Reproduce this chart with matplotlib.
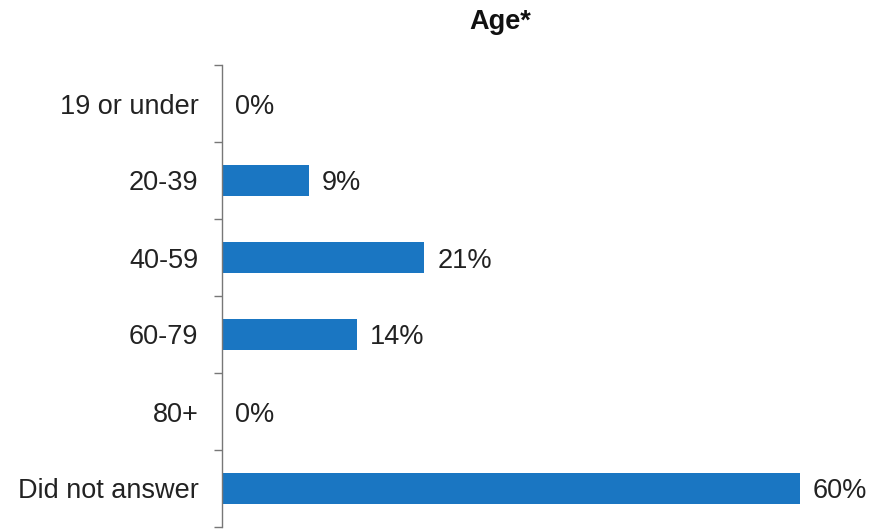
import matplotlib.pyplot as plt
import numpy as np

plt.rcParams['font.family'] = ['Liberation Sans', 'DejaVu Sans']

categories = ['19 or under', '20-39', '40-59', '60-79', '80+', 'Did not answer']
percents = [0, 9, 21, 14, 0, 60]

fig = plt.figure(figsize=(8.74, 5.29), dpi=100)
ax = fig.add_axes([222 / 874, 2 / 529, (850 - 222) / 874, 462 / 529])

y = np.arange(len(categories))
ax.barh(y, percents, height=0.4, color='#1a76c2')

for yi, v in zip(y, percents):
    ax.text(v + 1.35, yi, f'{v}%', va='center_baseline', ha='left',
            fontsize=19.5, color='#222222')

ax.set_xlim(0, (850 - 222) / 9.63)
ax.set_ylim(len(categories) - 0.5, -0.5)

ax.set_yticks(y)
ax.set_yticklabels(categories, fontsize=19.5, color='#222222')
ax.set_yticks(np.arange(-0.5, len(categories)), minor=True)
ax.tick_params(axis='y', which='major', length=0, pad=17)
ax.tick_params(axis='y', which='minor', length=6, width=1, color='#777777')
ax.set_xticks([])

for side in ['top', 'right', 'bottom']:
    ax.spines[side].set_visible(False)
ax.spines['left'].set_color('#777777')
ax.spines['left'].set_linewidth(1)

fig.text(500 / 874, 1 - 22 / 529, 'Age*', ha='center', va='center',
         fontsize=19.5, fontweight='bold', color='#111111')

fig.savefig('out.png', dpi=100)
